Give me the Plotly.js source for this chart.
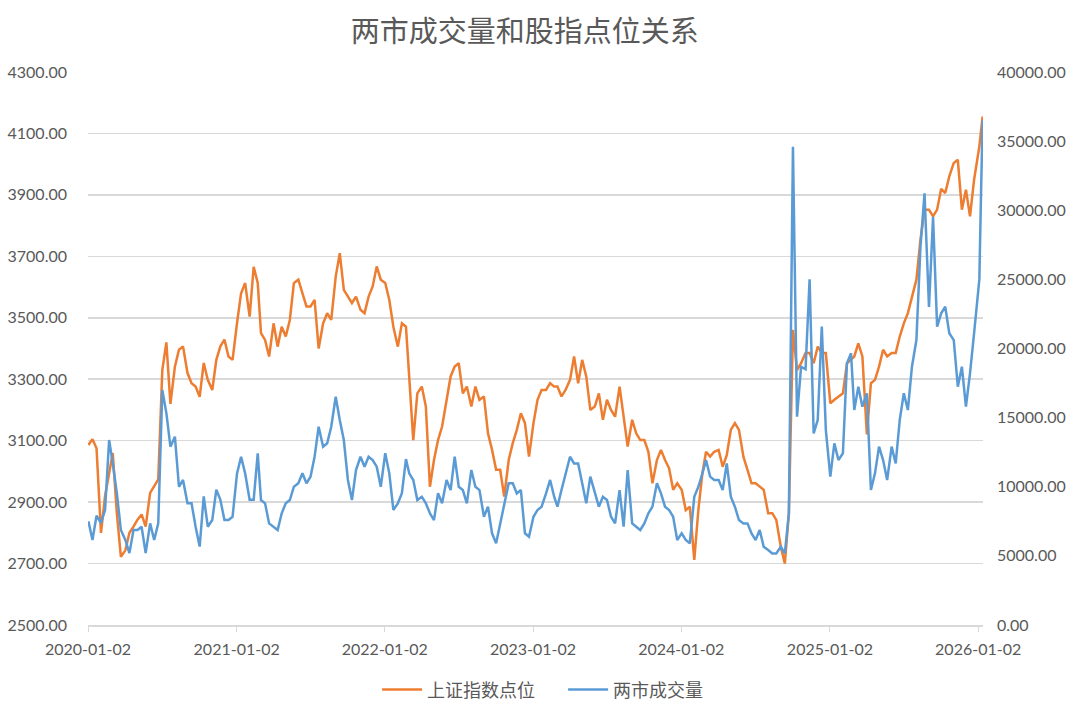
<!DOCTYPE html>
<html>
<head>
<meta charset="utf-8">
<script src="https://cdn.plot.ly/plotly-3.0.1.min.js"></script>
<style>
  html, body { margin: 0; padding: 0; background: #fff; }
  #chart { width: 1080px; height: 709px; }
</style>
</head>
<body>
<div id="chart"></div>
<script>
'use strict'

// readings taken three times a month (3rd, 13th, 23rd), Jan..Dec
const sse2020 = [3086, 3105, 3075, 2800, 2920, 2990, 3060, 2864, 2722, 2743, 2800, 2820,
  2843, 2860, 2820, 2930, 2950, 2974, 3330, 3420, 3220, 3341, 3396, 3407,
  3320, 3287, 3276, 3243, 3353, 3298, 3265, 3363, 3407, 3429, 3374, 3363]
const sse2021 = [3483, 3580, 3613, 3504, 3666, 3613, 3450, 3428, 3374, 3482, 3406, 3471,
  3439, 3493, 3613, 3624, 3580, 3537, 3537, 3558, 3400, 3482, 3515, 3493,
  3634, 3710, 3591, 3569, 3548, 3569, 3526, 3515, 3569, 3602, 3667, 3624]
const sse2022 = [3613, 3558, 3471, 3406, 3482, 3471, 3298, 3102, 3254, 3276, 3211, 2950,
  3037, 3102, 3146, 3233, 3309, 3341, 3352, 3254, 3276, 3211, 3276, 3233,
  3244, 3124, 3070, 3005, 3005, 2918, 3037, 3092, 3135, 3189, 3157, 3048]
const sse2023 = [3157, 3233, 3265, 3265, 3287, 3276, 3276, 3244, 3265, 3298, 3374, 3287,
  3363, 3309, 3200, 3211, 3254, 3168, 3233, 3200, 3178, 3276, 3178, 3081,
  3168, 3124, 3102, 3102, 3064, 2961, 3037, 3070, 3037, 3010, 2940, 2961]
const sse2024 = [2940, 2874, 2885, 2712, 2874, 2994, 3064, 3048, 3064, 3070, 3015, 3053,
  3135, 3157, 3135, 3048, 3005, 2961, 2961, 2950, 2940, 2864, 2864, 2842,
  2755, 2700, 2864, 3461, 3330, 3352, 3385, 3385, 3352, 3406, 3385, 3385]
const sse2025 = [3222, 3233, 3244, 3254, 3352, 3363, 3374, 3417, 3374, 3120, 3287, 3298,
  3341, 3396, 3374, 3385, 3385, 3439, 3482, 3515, 3569, 3624, 3754, 3852,
  3852, 3830, 3852, 3920, 3906, 3960, 4004, 4014, 3852, 3917, 3830, 3949]
const sse2026 = [4058, 4101, 4155]

const vol2020 = [7500, 6150, 7900, 7380, 8320, 13380, 11700, 9540, 6870, 6150, 5200, 6870,
  6870, 7110, 5200, 7350, 6150, 7350, 17000, 15330, 12900, 13620, 10000, 10490,
  8800, 8800, 7110, 5670, 9300, 7110, 7590, 9780, 9060, 7590, 7590, 7830]
const vol2021 = [10970, 12170, 10970, 9060, 9060, 12420, 9040, 8800, 7350, 7110, 6870, 8080,
  8800, 9040, 10000, 10250, 10970, 10250, 10730, 12170, 14340, 12900, 13140, 14340,
  16510, 14830, 13380, 10490, 9040, 11210, 12170, 11450, 12170, 11930, 11450, 10000]
const vol2022 = [12420, 10970, 8320, 8800, 9530, 12000, 10970, 10490, 9040, 9280, 8800, 8080,
  7590, 9530, 8800, 10490, 9760, 12170, 10000, 9760, 8800, 11210, 10000, 9760,
  7830, 8560, 6630, 5910, 7350, 8800, 10250, 10250, 9520, 9760, 6630, 6390]
const vol2023 = [7830, 8320, 8560, 9520, 10490, 9280, 8560, 9760, 10970, 12170, 11690, 11690,
  10250, 8800, 10730, 9520, 8560, 9280, 9040, 7830, 7350, 9760, 7110, 11210,
  7350, 7110, 6870, 7350, 8080, 8560, 10250, 9520, 8560, 8320, 7830, 6150]
const vol2024 = [6630, 6150, 5910, 9280, 10000, 10970, 11930, 10730, 10490, 10490, 9760, 11690,
  9280, 8560, 7590, 7350, 7350, 6630, 6150, 6870, 5660, 5420, 5180, 5180,
  5660, 5180, 8080, 34600, 15070, 18680, 18500, 25000, 13860, 14830, 21580, 14100]
const vol2025 = [10730, 13140, 11930, 12420, 18930, 19650, 15550, 17240, 15790, 16760, 9760, 10970,
  12900, 11930, 10490, 12900, 11690, 14830, 16760, 15550, 18680, 20610, 27360, 31220,
  23000, 29500, 21580, 22540, 23020, 21100, 20610, 17240, 18680, 15790, 18200, 21100]
const vol2026 = [25000, 31000, 36500]

const years = [2020, 2021, 2022, 2023, 2024, 2025]
const sampleDays = ['03', '13', '23']
const tail2026 = ['2026-01-05', '2026-01-09', '2026-01-13']
const tickDates = ['2020-01-02', '2021-01-02', '2022-01-02', '2023-01-02', '2024-01-02', '2025-01-02', '2026-01-02']

const seriesNames = ['上证指数点位', '两市成交量']
const orange = '#ED7D31'
const blue = '#5B9BD5'
const grey = '#595959'

let dates = []
for (let y of years) {
  for (let m = 1; m <= 12; m++) {
    let mm = m < 10 ? '0' + m : '' + m
    for (let d of sampleDays) dates.push(y + '-' + mm + '-' + d)
  }
}
dates = dates.concat(tail2026)

const sse = [].concat(sse2020, sse2021, sse2022, sse2023, sse2024, sse2025, sse2026)
const vol = [].concat(vol2020, vol2021, vol2022, vol2023, vol2024, vol2025, vol2026)

const font = 'Lato, "Noto Sans CJK SC", sans-serif'
const cjk = '"Noto Sans CJK SC", sans-serif'

let traces = [
  {x: dates, y: sse, name: seriesNames[0], type: 'scatter', mode: 'lines',
    line: {color: orange, width: 2.5}, yaxis: 'y'},
  {x: dates, y: vol, name: seriesNames[1], type: 'scatter', mode: 'lines',
    line: {color: blue, width: 2.5}, yaxis: 'y2'}
]

let layout = {
  width: 1080,
  height: 709,
  margin: {l: 88, r: 97, t: 72, b: 84},
  paper_bgcolor: '#fff',
  plot_bgcolor: '#fff',
  font: {family: font, color: grey, size: 16},
  title: {text: '两市成交量和股指点位关系', xref: 'paper', x: 0.488, xanchor: 'center',
    yref: 'container', y: 0.955, yanchor: 'middle',
    font: {family: cjk, size: 29, color: grey}},
  showlegend: true,
  legend: {orientation: 'h', x: 0.323, xanchor: 'left',
    yref: 'container', y: 0.027, yanchor: 'middle',
    itemwidth: 40, entrywidth: 131, entrywidthmode: 'pixels',
    font: {family: cjk, size: 18, color: grey}},
  hovermode: false,
  xaxis: {
    type: 'date',
    range: ['2020-01-02', '2026-01-14'],
    tickvals: tickDates,
    ticktext: tickDates,
    ticks: 'outside', ticklen: 5, tickcolor: '#d9d9d9',
    ticklabelstandoff: 4,
    showline: true, linecolor: '#d9d9d9', linewidth: 1.5,
    showgrid: false, zeroline: false, automargin: false,
    tickfont: {size: 16, color: grey}
  },
  yaxis: {
    range: [2500, 4300], dtick: 200, tick0: 2500, tickformat: '.2f',
    showgrid: true, gridcolor: '#d9d9d9', gridwidth: 1.5,
    zeroline: false, showline: false, ticks: '', ticklabelstandoff: 20,
    automargin: false,
    tickfont: {size: 16, color: grey}
  },
  yaxis2: {
    range: [0, 40000], dtick: 5000, tick0: 0, tickformat: '.2f',
    overlaying: 'y', side: 'right',
    showgrid: false, zeroline: false, showline: false, ticks: '', ticklabelstandoff: 13,
    automargin: false,
    tickfont: {size: 16, color: grey}
  }
}

let config = {displaylogo: false, displayModeBar: false, staticPlot: true}

Plotly.newPlot('chart', traces, layout, config)
</script>
</body>
</html>
